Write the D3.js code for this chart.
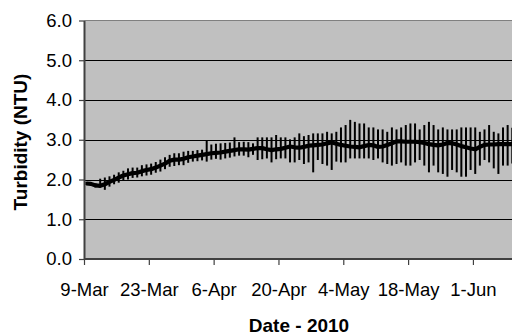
<!DOCTYPE html>
<html>
<head>
<meta charset="utf-8">
<script src="https://cdn.jsdelivr.net/npm/d3@7"></script>
<style>
  html, body { margin: 0; padding: 0; background: #ffffff; }
  svg { display: block; font-family: "Liberation Sans", Arial, sans-serif; }
</style>
</head>
<body>
<svg id="chart" width="512" height="335"></svg>
<script>
// Daily turbidity record, 2010 (first day of the series)
const startDate = Date.UTC(2010, 2, 9);

// Daily mean turbidity (NTU)
const turbidityMean = [
  1.90, 1.89, 1.85, 1.84, 1.88, 1.94, 1.99, 2.05, 2.10, 2.13,
  2.16, 2.17, 2.21, 2.24, 2.26, 2.30, 2.35, 2.40, 2.47, 2.50,
  2.50, 2.52, 2.56, 2.58, 2.60, 2.62, 2.64, 2.66, 2.67, 2.68,
  2.70, 2.72, 2.74, 2.76, 2.76, 2.75, 2.77, 2.79, 2.79, 2.76,
  2.74, 2.76, 2.77, 2.80, 2.83, 2.81, 2.80, 2.82, 2.85, 2.86,
  2.87, 2.88, 2.91, 2.93, 2.90, 2.87, 2.85, 2.83, 2.82, 2.81,
  2.84, 2.87, 2.86, 2.82, 2.83, 2.87, 2.91, 2.96, 2.96, 2.95,
  2.95, 2.95, 2.94, 2.92, 2.89, 2.87, 2.86, 2.88, 2.92, 2.91,
  2.88, 2.84, 2.81, 2.78, 2.76, 2.82, 2.87, 2.88, 2.88, 2.89,
  2.89, 2.89, 2.89
];

// Daily maximum (top of error bar)
const turbidityHigh = [
  1.94, 1.93, 1.90, 2.02, 2.05, 2.08, 2.12, 2.18, 2.22, 2.28,
  2.30, 2.30, 2.36, 2.38, 2.40, 2.44, 2.50, 2.56, 2.62, 2.66,
  2.66, 2.70, 2.72, 2.72, 2.74, 2.75, 2.97, 2.88, 2.90, 2.91,
  2.92, 2.93, 3.06, 2.94, 2.95, 2.94, 2.91, 3.06, 3.06, 3.06,
  3.06, 3.12, 3.06, 3.06, 3.01, 3.06, 3.16, 3.09, 3.12, 3.16,
  3.16, 3.16, 3.20, 3.16, 3.20, 3.31, 3.37, 3.50, 3.45, 3.41,
  3.41, 3.31, 3.31, 3.26, 3.26, 3.20, 3.31, 3.26, 3.31, 3.37,
  3.41, 3.41, 3.26, 3.37, 3.45, 3.37, 3.26, 3.31, 3.26, 3.26,
  3.26, 3.31, 3.31, 3.31, 3.31, 3.20, 3.26, 3.37, 3.20, 3.16,
  3.31, 3.37, 3.30
];

// Daily minimum (bottom of error bar)
const turbidityLow = [
  1.86, 1.85, 1.80, 1.80, 1.74, 1.82, 1.88, 1.92, 1.98, 2.00,
  2.04, 2.05, 2.08, 2.10, 2.12, 2.17, 2.20, 2.26, 2.32, 2.34,
  2.36, 2.36, 2.42, 2.45, 2.46, 2.48, 2.45, 2.50, 2.52, 2.50,
  2.53, 2.55, 2.58, 2.60, 2.60, 2.56, 2.62, 2.49, 2.51, 2.53,
  2.43, 2.51, 2.53, 2.53, 2.43, 2.43, 2.49, 2.39, 2.43, 2.18,
  2.49, 2.39, 2.35, 2.24, 2.45, 2.43, 2.43, 2.53, 2.53, 2.53,
  2.53, 2.53, 2.49, 2.53, 2.43, 2.39, 2.35, 2.39, 2.43, 2.35,
  2.35, 2.43, 2.49, 2.35, 2.18, 2.35, 2.18, 2.14, 2.07, 2.24,
  2.18, 2.07, 2.07, 2.24, 2.14, 2.35, 2.49, 2.43, 2.28, 2.14,
  2.35, 2.35, 2.40
];

// Axis ticks
const yTicks = [0, 1, 2, 3, 4, 5, 6];
const xTickLabels = ["9-Mar", "23-Mar", "6-Apr", "20-Apr", "4-May", "18-May", "1-Jun"];

const parseTick = d3.utcParse("%d-%b-%Y");
const xTickDates = xTickLabels.map(s => parseTick(s + "-2010"));

const days = turbidityMean.map((_, i) => d3.utcDay.offset(new Date(startDate), i));
const rows = days.map((d, i) => ({
  date: d,
  mid: d3.utcHour.offset(d, 12),
  mean: turbidityMean[i],
  hi: turbidityHigh[i],
  lo: turbidityLow[i]
}));

const plot = { left: 84, right: 512, top: 20.5, bottom: 259 };
const svg = d3.select("#chart");

const x = d3.scaleTime()
  .domain([new Date(startDate), d3.utcDay.offset(new Date(startDate), 93)])
  .range([plot.left, plot.left + 93 * 4.63]);
const y = d3.scaleLinear().domain([0, 6]).range([plot.bottom, plot.top]);

svg.append("defs").append("clipPath").attr("id", "plotClip")
  .append("rect")
  .attr("x", plot.left).attr("y", 0)
  .attr("width", plot.right - plot.left).attr("height", plot.bottom);

// Plot background
svg.append("rect")
  .attr("x", plot.left).attr("y", plot.top)
  .attr("width", plot.right - plot.left).attr("height", plot.bottom - plot.top)
  .attr("fill", "#c0c0c0");

// Top frame line
svg.append("line")
  .attr("x1", plot.left).attr("x2", plot.right)
  .attr("y1", plot.top).attr("y2", plot.top)
  .attr("stroke", "#808080").attr("stroke-width", 1.2);

// Horizontal gridlines
svg.append("g").selectAll("line")
  .data(yTicks.filter(v => v > 0 && v < 6))
  .join("line")
  .attr("x1", plot.left).attr("x2", plot.right)
  .attr("y1", d => Math.round(y(d)) + 0.5).attr("y2", d => Math.round(y(d)) + 0.5)
  .attr("stroke", "#000").attr("stroke-width", 1);

const g = svg.append("g").attr("clip-path", "url(#plotClip)");

// Error bars (daily range)
g.append("g").selectAll("line")
  .data(rows)
  .join("line")
  .attr("x1", d => x(d.mid)).attr("x2", d => x(d.mid))
  .attr("y1", d => y(d.hi)).attr("y2", d => y(d.lo))
  .attr("stroke", "#000").attr("stroke-width", 2);

// Mean line
g.append("path")
  .datum(rows)
  .attr("fill", "none")
  .attr("stroke", "#000")
  .attr("stroke-width", 4.2)
  .attr("stroke-linejoin", "round")
  .attr("d", d3.line().x(d => x(d.mid)).y(d => y(d.mean)));

// Y axis
const yAxis = d3.axisLeft(y)
  .tickValues(yTicks)
  .tickFormat(d3.format(".1f"))
  .tickSizeInner(5).tickSizeOuter(0).tickPadding(7);
const yg = svg.append("g").attr("transform", `translate(${plot.left},0)`).call(yAxis);
yg.select(".domain").attr("stroke", "#404040").attr("stroke-width", 2);
yg.selectAll(".tick line").attr("stroke", "#404040").attr("stroke-width", 1.2);
yg.selectAll(".tick text")
  .attr("font-size", "18.5px").attr("fill", "#000")
  .attr("font-family", "Liberation Sans, Arial, sans-serif");

// X axis
const xAxis = d3.axisBottom(x)
  .tickValues(xTickDates)
  .tickFormat((d, i) => xTickLabels[i])
  .tickSizeInner(6).tickSizeOuter(0).tickPadding(18);
const xg = svg.append("g").attr("transform", `translate(0,${plot.bottom})`).call(xAxis);
xg.select(".domain")
  .attr("d", `M${plot.left},0H${plot.right}`)
  .attr("stroke", "#404040").attr("stroke-width", 2);
xg.selectAll(".tick line").attr("stroke", "#404040").attr("stroke-width", 1.2);
xg.selectAll(".tick text")
  .attr("font-size", "18.5px").attr("fill", "#000")
  .attr("font-family", "Liberation Sans, Arial, sans-serif");

// Axis titles
svg.append("text")
  .attr("transform", "translate(27,142) rotate(-90)")
  .attr("text-anchor", "middle")
  .attr("font-size", "19px").attr("font-weight", "bold")
  .text("Turbidity (NTU)");

svg.append("text")
  .attr("x", 299).attr("y", 332)
  .attr("text-anchor", "middle")
  .attr("font-size", "19px").attr("font-weight", "bold")
  .text("Date - 2010");
</script>
</body>
</html>
